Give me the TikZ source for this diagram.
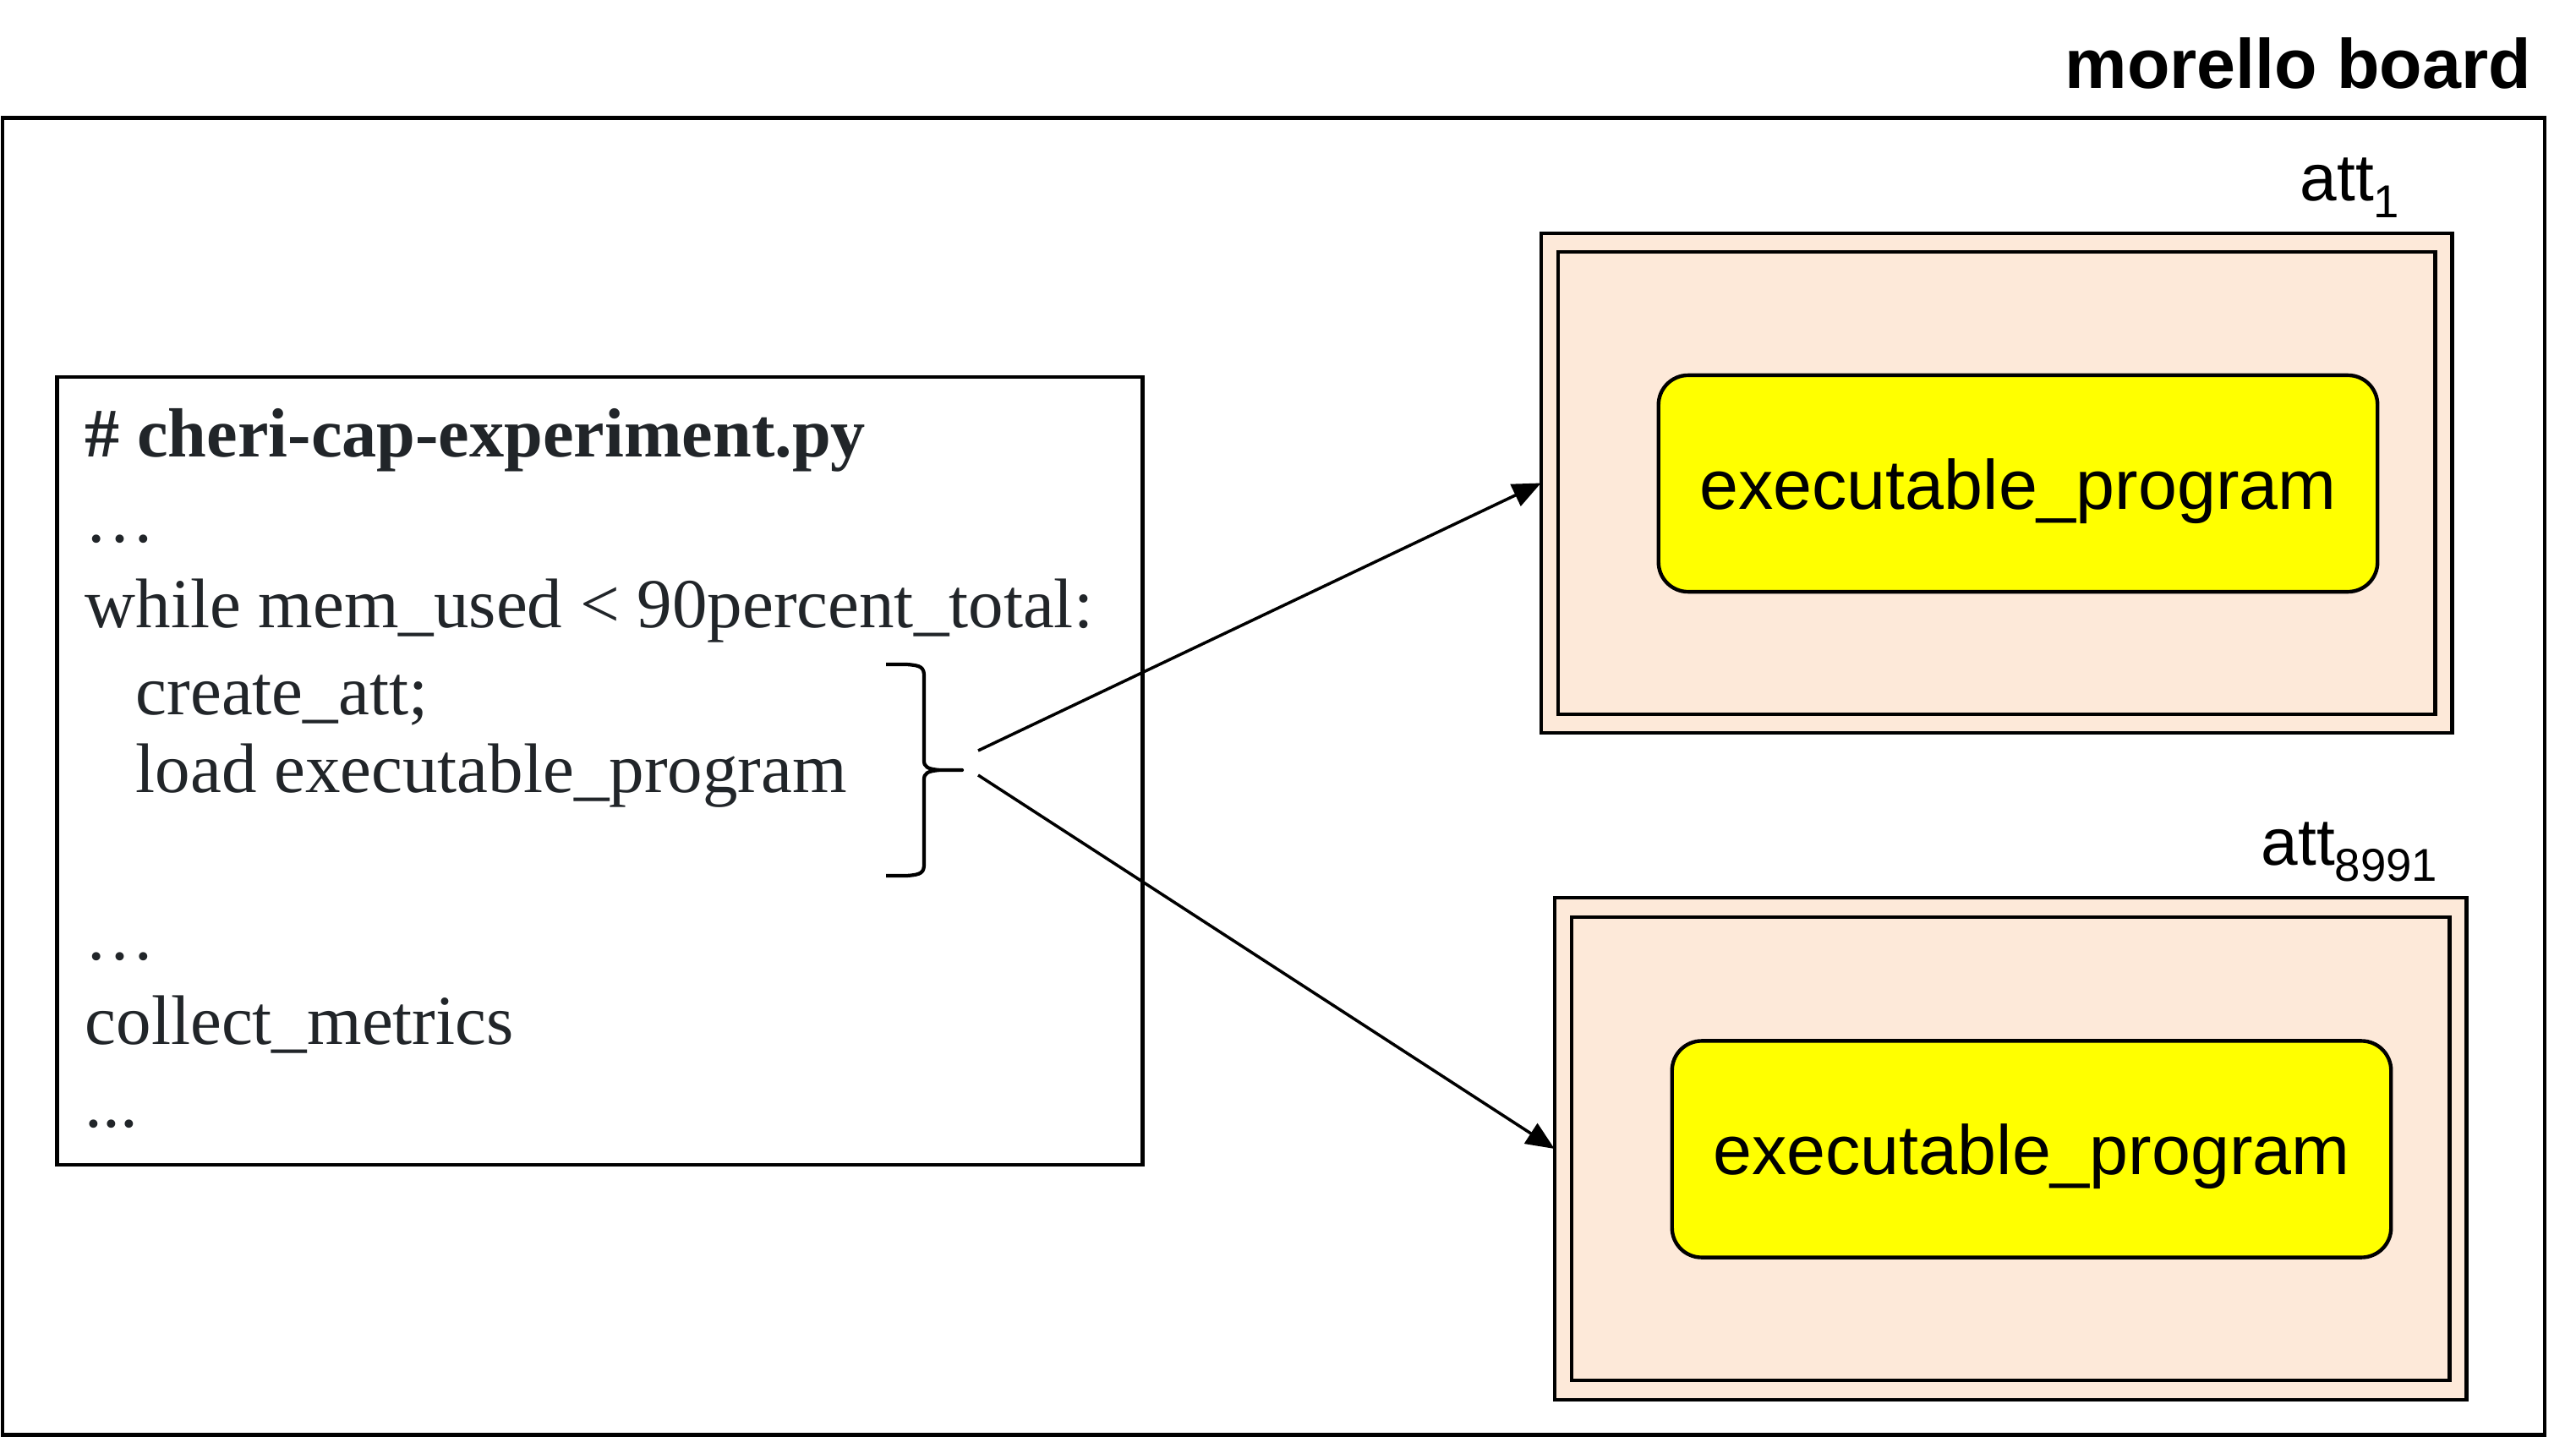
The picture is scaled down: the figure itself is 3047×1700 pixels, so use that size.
\documentclass[tikz,border=0pt]{standalone}
\usepackage{fontspec}
\setmainfont{Liberation Serif}
\setsansfont{Liberation Sans}
\usetikzlibrary{arrows.meta}
\definecolor{peach}{HTML}{FDE9D9}
\definecolor{codetext}{HTML}{212529}
\definecolor{progyellow}{HTML}{FFFF00}
\begin{document}
\begin{tikzpicture}[x=0.01cm, y=-0.01cm,
  box/.style={draw, line width=1.25pt, inner sep=0pt, outer sep=0pt},
  attbox/.style={box, fill=peach},
  prog/.style={box, fill=progyellow, rounded corners=0.35cm,
    font=\sffamily\fontsize{23.5pt}{28pt}\selectfont,
    text height=19.9pt, text depth=2.6pt,
    minimum width=8.5cm, minimum height=2.56cm},
  codeline/.style={anchor=base west, inner sep=0pt, text=codetext,
    font=\fontsize{23.6pt}{28pt}\selectfont},
  attlabel/.style={anchor=base west, inner sep=0pt,
    font=\sffamily\fontsize{22.3pt}{26pt}\selectfont},
  link/.style={line width=1pt, -{Triangle[length=9.5pt, width=8pt]}},
]
\useasboundingbox (0,0) rectangle (3047,1700);

% board
\node[box, minimum width=30.05cm, minimum height=15.57cm] (board) at (1506.5,918.5) {};
\node[anchor=base west, inner sep=0pt, font=\sffamily\bfseries\fontsize{23.5pt}{28pt}\selectfont] (title) at (2442,105) {morello board};

% code box
\node[box, minimum width=12.83cm, minimum height=9.32cm] (code) at (709.5,912) {};
\node[codeline, font=\bfseries\fontsize{23.4pt}{28pt}\selectfont] (l1) at (100,540) {\# cheri-cap-experiment.py};
\node[codeline] (l2) at (100,641) {…};
\node[codeline] (l3) at (100,742) {while mem\_used < 90percent\_total:};
\node[codeline] (l4) at (160,845) {create\_att;};
\node[codeline] (l5) at (160,937) {load executable\_program};
\node[codeline] (l6) at (100,1135) {…};
\node[codeline] (l7) at (100,1235) {collect\_metrics};
\node[codeline] (l8) at (100,1333) {...};

% brace
\draw[line width=1.2pt, line join=round]
  (1048,786) -- (1072,786) .. controls (1090,787) and (1093,790) .. (1093,800)
  -- (1093,900) .. controls (1093,907) and (1097,910) .. (1112,911) -- (1138,911)
  -- (1112,911) .. controls (1097,912) and (1093,915) .. (1093,922)
  -- (1093,1022) .. controls (1093,1032) and (1090,1035) .. (1072,1036) -- (1048,1036);
\coordinate (s1) at (1157,888);
\coordinate (s2) at (1157,917);

% att 1
\node[attbox, minimum width=10.77cm, minimum height=5.91cm] (att1) at (2361.5,571.5) {};
\node[attbox, minimum width=10.37cm, minimum height=5.47cm] (att1in) at (2361.5,571.5) {};
\node[prog] (prog1) at (2387,572) {executable\_program};
\node[attlabel] (att1lbl) at (2720,238) {att\raisebox{-5.5pt}{\fontsize{15.5pt}{18pt}\selectfont 1}};

% att 8991
\node[attbox, minimum width=10.78cm, minimum height=5.94cm] (att2) at (2378,1359) {};
\node[attbox, minimum width=10.38cm, minimum height=5.48cm] (att2in) at (2378,1359) {};
\node[prog] (prog2) at (2403,1359.5) {executable\_program};
\node[attlabel] (att2lbl) at (2674,1023) {att\raisebox{-5.5pt}{\fontsize{15.5pt}{18pt}\selectfont 8991}};

% arrows
\draw[link] (s1) -- (att1.west);
\draw[link] (s2) -- (att2.west);
\end{tikzpicture}
\end{document}
